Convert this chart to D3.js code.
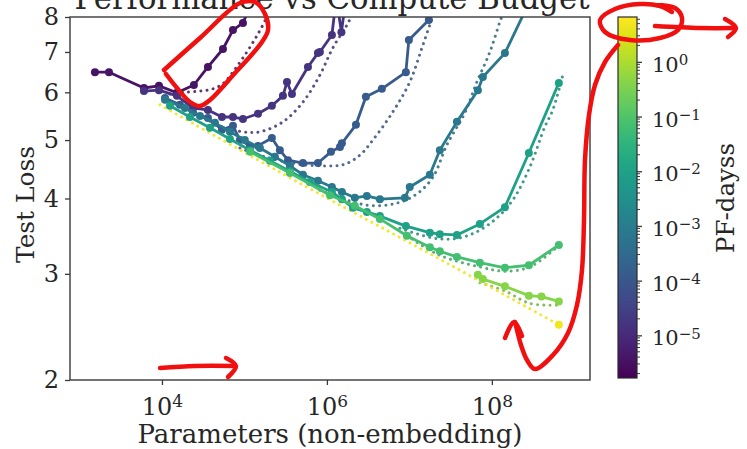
<!DOCTYPE html>
<html>
<head>
<meta charset="utf-8">
<script src="https://cdn.jsdelivr.net/npm/d3@7"></script>
<style>
  body { margin: 0; background: #fff; }
  svg { display: block; }
  text { font-family: "DejaVu Serif", "Liberation Serif", serif; fill: #262626; }
</style>
</head>
<body>
<svg id="chart" width="747" height="449"></svg>
<script>
// ---- tick values ----
const xTicks = [1e4, 1e6, 1e8];
const yTicks = [2, 3, 4, 5, 6, 7, 8];
const cbTicks = [1e-5, 1e-4, 1e-3, 1e-2, 1e-1, 1e0];

// ---- compute budget of each sweep (PF-days), smallest to largest ----
const pfDays = [3.5e-6, 1.6e-5, 1.2e-4, 7.2e-4, 9.5e-3, 6.9e-2, 0.43, 4.9];

// ---- measured test loss vs non-embedding parameters, one array per budget ----
const sweepA = [[1.54e3,6.48],[2.28e3,6.48],[6.05e3,6.10],[9.2e3,6.15],[1.52e4,5.99],[2.44e4,6.17],
  [3.61e4,6.61],[5.49e4,7.08],[7.26e4,7.61],[9.59e4,7.82],[1.25e5,8.5]];
const sweepB = [[6.05e3,6.03],[9.2e3,6.05],[1.52e4,5.92],[2.38e4,5.65],[3.61e4,5.61],[5.34e4,5.46],
  [7.26e4,5.46],[9.59e4,5.42],[1.46e5,5.53],[2.15e5,5.70],[2.93e5,5.92],[3.28e5,6.24],[3.77e5,5.96],
  [5.89e5,6.61],[7.78e5,6.97],[8.22e5,7.00],[1.15e6,7.47],[1.30e6,8.6],[1.50e6,7.55],[1.70e6,8.6]];
const sweepC = [[1.09e4,5.87],[1.65e4,5.72],[2.38e4,5.55],[3.61e4,5.44],[5.34e4,5.20],[7.26e4,5.28],
  [8.82e4,5.00],[1.17e5,4.89],[1.46e5,4.89],[2.15e5,5.04],[2.69e5,4.81],[3.37e5,4.63],[5.12e5,4.58],
  [7.78e5,4.58],[1.12e6,4.78],[1.44e6,4.87],[1.52e6,4.94],[2.25e6,5.30],[2.97e6,5.90],[4.64e6,6.08],
  [9.07e6,6.48],[9.86e6,7.33],[1.72e7,7.91]];
const sweepD = [[1.09e4,5.83],[1.90e4,5.65],[2.89e4,5.48],[4.39e4,5.34],[6.67e4,5.16],[1.01e5,5.00],
  [1.54e5,4.85],[2.34e5,4.69],[3.56e5,4.53],[5.12e5,4.38],[7.78e5,4.28],[1.15e6,4.18],[1.52e6,4.10],
  [2.18e6,4.01],[3.05e6,4.04],[4.39e6,3.99],[8.82e6,4.01],[1.01e7,4.18],[1.77e7,4.38],[2.34e7,4.81],
  [3.77e7,5.36],[6.77e7,6.05],[7.78e7,6.36],[1.44e8,6.97],[2.73e8,8.37]];
const sweepE = [[1.25e4,5.70],[2.18e4,5.46],[3.82e4,5.24],[6.67e4,5.02],[1.17e5,4.81],[2.04e5,4.62],
  [3.56e5,4.44],[6.22e5,4.26],[1.15e6,4.10],[1.52e6,3.99],[2.07e6,3.86],[3.05e6,3.80],[4.39e6,3.74],
  [9.07e6,3.60],[1.77e7,3.51],[2.34e7,3.49],[3.77e7,3.48],[7.16e7,3.63],[1.44e8,3.87],[2.81e8,4.76],
  [6.49e8,6.22]];
const sweepF = [[1.17e5,4.78],[3.56e5,4.41],[1.09e6,4.05],[2.18e6,3.89],[4.39e6,3.70],[9.33e6,3.47],
  [1.77e7,3.32],[2.34e7,3.27],[3.77e7,3.20],[7.16e7,3.13],[1.44e8,3.07],[2.81e8,3.10],[6.49e8,3.35]];
const sweepG = [[6.77e7,2.99],[7.78e7,2.94],[1.44e8,2.86],[2.81e8,2.76],[4.0e8,2.75],[6.49e8,2.70]];
const sweepH = [[6.49e8,2.47]];

// ---- fitted curves for each budget ----
const fitA = [[1.25e4,5.96],[1.9e4,6.0],[2.89e4,6.03],[4.15e4,6.08],[5.49e4,6.2],[7.05e4,6.45],
  [1.07e5,7.0],[1.46e5,7.5],[1.87e5,8.0],[2.1e5,8.3]];
const fitB = [[3.32e4,5.44],[4.64e4,5.30],[9.59e4,5.16],[1.54e5,5.16],[2.93e5,5.36],[5.12e5,5.78],
  [8.22e5,6.41],[1.18e6,7.11],[1.75e6,7.76],[2.01e6,8.05]];
const fitC = [[8.82e4,4.85],[1.77e5,4.69],[4.71e5,4.56],[1.09e6,4.53],[1.65e6,4.56],[2.51e6,4.72],
  [3.61e6,5.00],[6.31e6,5.57],[1.01e7,6.24],[1.42e7,7.11],[1.82e7,7.85],[1.98e7,8.1]];
const fitD = [[8.22e5,4.13],[3.05e6,3.90],[7.05e6,3.93],[1.23e7,4.07],[1.93e7,4.34],[2.85e7,4.91],
  [4.71e7,5.55],[6.58e7,6.24],[9.46e7,7.00],[1.25e8,7.85],[1.36e8,8.1]];
const fitE = [[7.67e6,3.57],[1.93e7,3.44],[3.56e7,3.43],[6.22e7,3.51],[1.09e8,3.69],[1.80e8,3.98],
  [2.89e8,4.51],[4.39e8,5.26],[5.48e8,5.61],[7.26e8,6.41]];
const fitF = [[9.33e6,3.47],[2.34e7,3.22],[7.16e7,3.08],[1.44e8,3.03],[2.89e8,3.08],[6.13e8,3.32]];
const fitG = [[7.16e7,2.90],[1.44e8,2.81],[2.89e8,2.68],[6.13e8,2.66]];
const fitH = [[9.46e3,5.72],[4.71e5,4.24],[1.77e7,3.24],[6.49e8,2.47]];

const sweeps = [sweepA, sweepB, sweepC, sweepD, sweepE, sweepF, sweepG, sweepH];
const fits = [fitA, fitB, fitC, fitD, fitE, fitF, fitG, fitH];

// ---- red pen marks (screen coordinates) ----
const penStrokes = [
  [[164,70],[200,38],[240,3],[255,2],[265,14],[268,30],[262,42],[235,73],[210,100],[200,106],[190,102],[177,88],[166,74]],
  [[672,12],[660,6],[640,4],[615,9],[600,20],[605,32],[630,40],[660,38],[678,30],[682,18],[675,8],[655,5]],
  [[655,26],[700,28],[735,28]],
  [[725,19],[736,28],[728,37]],
  [[618,45],[605,62],[595,85],[589,115],[585,160],[584,220],[582,270],[577,305],[568,333],[553,355],[535,369],[527,360],[521,345],[517,330],[515,322]],
  [[505,338],[514,322],[522,336]],
  [[160,368],[195,366],[235,366]],
  [[226,358],[236,366],[228,377]]
];

// ---- layout ----
const plot = { left: 70, right: 590, top: 17, bottom: 380 };
const cb = { left: 618, right: 637, top: 17, bottom: 378 };

const svg = d3.select("#chart");

const x = d3.scaleLog().domain([Math.pow(10, 2.885), Math.pow(10, 9.19)]).range([plot.left, plot.right]);
const y = d3.scaleLog().domain([2, 8]).range([plot.bottom, plot.top]);
const cbScale = d3.scaleLog().domain([Math.pow(10, -5.78), Math.pow(10, 0.82)]).range([cb.bottom, cb.top]);
const color = d3.scaleSequentialLog(d3.interpolateViridis).domain(cbScale.domain());

const defs = svg.append("defs");
defs.append("clipPath").attr("id", "plotClip")
  .append("rect")
  .attr("x", plot.left).attr("y", plot.top)
  .attr("width", plot.right - plot.left).attr("height", plot.bottom - plot.top);

// helpers for "10^k" labels
function powerLabel(sel, d, supSize) {
  const k = Math.round(Math.log10(d));
  sel.text(null);
  sel.append("tspan").text("10");
  sel.append("tspan")
    .attr("dy", "-0.45em")
    .attr("font-size", supSize)
    .text(k < 0 ? "\u2212" + (-k) : String(k));
}

// ---- title (runs off the top edge) ----
const title = svg.append("text")
  .attr("x", 332).attr("y", 9)
  .attr("text-anchor", "middle")
  .attr("font-size", 30)
  .text("Performance vs Compute Budget");

// ---- data layer ----
const gData = svg.append("g").attr("clip-path", "url(#plotClip)");
const lineGen = d3.line().x(d => x(d[0])).y(d => y(d[1]));
const fitGen = d3.line().x(d => x(d[0])).y(d => y(d[1])).curve(d3.curveCatmullRom.alpha(0.5));

sweeps.forEach((pts, i) => {
  const c = color(pfDays[i]);
  const isLast = i === sweeps.length - 1;
  gData.append("path")
    .attr("d", fitGen(fits[i]))
    .attr("fill", "none")
    .attr("stroke", isLast ? c : d3.interpolateRgb(c, "#555")(0.25))
    .attr("stroke-opacity", 0.9)
    .attr("stroke-width", 3)
    .attr("stroke-linecap", "round")
    .attr("stroke-dasharray", "0.01 6.2");
});

sweeps.forEach((pts, i) => {
  const c = color(pfDays[i]);
  const g = gData.append("g");
  if (pts.length > 1) {
    g.append("path")
      .attr("d", lineGen(pts))
      .attr("fill", "none")
      .attr("stroke", c)
      .attr("stroke-width", 2.8)
      .attr("stroke-linejoin", "round");
  }
  g.selectAll("circle").data(pts).join("circle")
    .attr("cx", d => x(d[0]))
    .attr("cy", d => y(d[1]))
    .attr("r", 4)
    .attr("fill", c);
});

// ---- frame ----
svg.append("rect")
  .attr("x", plot.left).attr("y", plot.top)
  .attr("width", plot.right - plot.left).attr("height", plot.bottom - plot.top)
  .attr("fill", "none").attr("stroke", "#3a3a3a").attr("stroke-width", 1.4);

// ---- axes ----
const xAxis = svg.append("g")
  .attr("transform", `translate(0,${plot.bottom})`)
  .call(d3.axisBottom(x).tickValues(xTicks).tickSize(5).tickPadding(8));
xAxis.select(".domain").remove();
xAxis.selectAll(".tick line").attr("stroke", "#3a3a3a").attr("stroke-width", 1.3);
xAxis.selectAll(".tick text")
  .attr("font-size", 24).attr("fill", "#262626").attr("dy", "0.9em")
  .each(function (d) { powerLabel(d3.select(this), d, 17); });

const yAxis = svg.append("g")
  .attr("transform", `translate(${plot.left},0)`)
  .call(d3.axisLeft(y).tickValues(yTicks).tickFormat(d3.format("d")).tickSize(5).tickPadding(6));
yAxis.select(".domain").remove();
yAxis.selectAll(".tick line").attr("stroke", "#3a3a3a").attr("stroke-width", 1.3);
yAxis.selectAll(".tick text").attr("font-size", 24).attr("fill", "#262626");

// axis titles
const xTitle = svg.append("text")
  .attr("x", (plot.left + plot.right) / 2).attr("y", 443)
  .attr("text-anchor", "middle").attr("font-size", 24)
  .text("Parameters (non-embedding)");
const yTitle = svg.append("text")
  .attr("transform", `translate(34,${(plot.top + plot.bottom) / 2 + 6}) rotate(-90)`)
  .attr("text-anchor", "middle").attr("font-size", 24)
  .text("Test Loss");

// ---- colorbar ----
const grad = defs.append("linearGradient").attr("id", "cbGrad")
  .attr("x1", 0).attr("y1", 1).attr("x2", 0).attr("y2", 0);
d3.range(0, 1.0001, 0.05).forEach(t => {
  grad.append("stop").attr("offset", t).attr("stop-color", d3.interpolateViridis(t));
});
svg.append("rect")
  .attr("x", cb.left).attr("y", cb.top)
  .attr("width", cb.right - cb.left).attr("height", cb.bottom - cb.top)
  .attr("fill", "url(#cbGrad)")
  .attr("stroke", "#2a2a2a").attr("stroke-width", 1.2);

// minor ticks at 2..9 x 10^k inside the colorbar range
const [cbLo, cbHi] = cbScale.domain();
const minor = [];
for (let k = -6; k <= 1; k++) {
  for (let m = 2; m <= 9; m++) {
    const v = m * Math.pow(10, k);
    if (v > cbLo && v < cbHi) minor.push(v);
  }
}
svg.append("g").selectAll("line").data(minor).join("line")
  .attr("x1", cb.right).attr("x2", cb.right + 3)
  .attr("y1", d => cbScale(d)).attr("y2", d => cbScale(d))
  .attr("stroke", "#3a3a3a").attr("stroke-width", 1);

const cbAxis = svg.append("g")
  .attr("transform", `translate(${cb.right},0)`)
  .call(d3.axisRight(cbScale).tickValues(cbTicks).tickSize(5).tickPadding(10));
cbAxis.select(".domain").remove();
cbAxis.selectAll(".tick line").attr("stroke", "#3a3a3a").attr("stroke-width", 1.3);
cbAxis.selectAll(".tick text")
  .attr("font-size", 21).attr("fill", "#262626").attr("dy", "0.45em")
  .each(function (d) { powerLabel(d3.select(this), d, 15); });

const cbTitle = svg.append("text")
  .attr("transform", `translate(734,198) rotate(-90)`)
  .attr("text-anchor", "middle").attr("font-size", 24)
  .text("PF-dayss");

// scale text blocks to their intended widths
function fitWidth(sel, target) {
  const w = sel.node().getComputedTextLength();
  const fs = parseFloat(sel.attr("font-size"));
  sel.attr("font-size", (fs * target / w).toFixed(2));
}
fitWidth(title, 515);
fitWidth(xTitle, 385);
fitWidth(yTitle, 117);
fitWidth(cbTitle, 110);

// ---- red pen marks on top ----
const pen = d3.line().curve(d3.curveCatmullRom.alpha(0.5));
svg.append("g").selectAll("path").data(penStrokes).join("path")
  .attr("d", d => pen(d))
  .attr("fill", "none")
  .attr("stroke", "#f01010")
  .attr("stroke-width", 4.5)
  .attr("stroke-linecap", "round")
  .attr("stroke-linejoin", "round");
</script>
</body>
</html>
